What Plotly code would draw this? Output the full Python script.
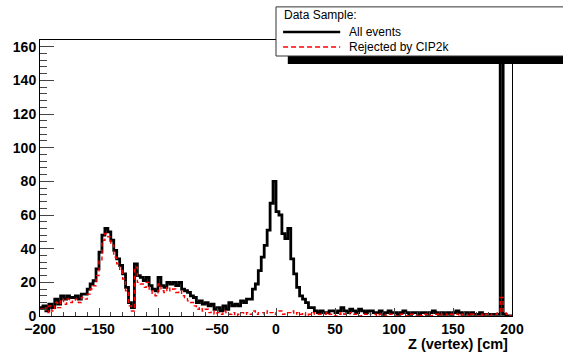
import numpy as np
import plotly.graph_objects as go

# Histogram binning: 160 bins of 2.5 cm from -200 to 200
z_min, z_max, n_bins = -200.0, 200.0, 160

# All events (counts per bin)
all_events = [
    5, 6, 3, 7, 5, 10, 7, 12, 10, 12, 11, 11, 12, 10, 13, 13,
    16, 19, 21, 28, 38, 48, 52, 50, 45, 39, 34, 30, 25, 17, 8, 5,
    31, 24, 23, 21, 23, 18, 16, 15, 23, 18, 17, 20, 19, 20, 18, 20,
    16, 15, 14, 12, 11, 8, 9, 7, 8, 6, 7, 4, 5, 3, 6, 4,
    8, 6, 7, 6, 9, 8, 10, 10, 16, 19, 27, 35, 42, 51, 67, 80,
    62, 60, 49, 46, 52, 34, 25, 17, 12, 10, 8, 5, 5, 3, 2, 3,
    2, 2, 3, 3, 2, 3, 5, 3, 2, 4, 3, 2, 4, 3, 2, 3,
    3, 2, 2, 3, 1, 2, 3, 2, 2, 1, 2, 3, 2, 1, 2, 2,
    1, 2, 2, 1, 2, 3, 2, 1, 2, 1, 2, 1, 2, 3, 2, 1,
    2, 1, 2, 1, 1, 2, 1, 1, 1, 1, 1, 1, 420, 1, 0, 0,
]

# Rejected by CIP2k (counts per bin)
rejected = [
    4, 5, 2, 6, 3, 8, 5, 10, 7, 10, 8, 9, 10, 8, 11, 10,
    13, 16, 18, 24, 33, 45, 49, 47, 42, 35, 31, 27, 22, 15, 6, 3,
    29, 20, 19, 17, 20, 15, 13, 12, 19, 15, 14, 17, 15, 16, 14, 15,
    12, 11, 9, 8, 6, 4, 5, 3, 4, 2, 3, 1, 2, 1, 3, 2,
    1, 2, 0, 1, 2, 1, 2, 1, 3, 1, 2, 2, 1, 3, 2, 1,
    2, 3, 1, 2, 2, 3, 1, 2, 1, 2, 0, 1, 2, 1, 1, 1,
    1, 2, 1, 1, 0, 1, 2, 1, 1, 2, 1, 1, 0, 1, 1, 2,
    1, 1, 0, 1, 1, 0, 1, 1, 0, 1, 1, 1, 0, 1, 1, 0,
    1, 0, 1, 1, 0, 1, 1, 0, 1, 1, 0, 1, 1, 1, 0, 1,
    1, 0, 1, 1, 0, 1, 0, 1, 0, 1, 1, 2, 11, 2, 1, 0,
]

x_ticks = [-200, -150, -100, -50, 0, 50, 100, 150, 200]
y_ticks = [0, 20, 40, 60, 80, 100, 120, 140, 160]

edges = np.linspace(z_min, z_max, n_bins + 1)


def step_xy(vals):
    v = list(vals)
    xs = list(edges)
    ys = v + [v[-1]]
    return xs, ys


fig = go.Figure()
xa, ya = step_xy(all_events)
fig.add_trace(go.Scatter(x=xa, y=ya, mode="lines", line=dict(color="black", width=2.8, shape="hv"),
                         name="All events", showlegend=False))
xr, yr = step_xy(rejected)
fig.add_trace(go.Scatter(x=xr, y=yr, mode="lines",
                         line=dict(color="#ff0000", width=1.4, shape="hv", dash="4px,3px"),
                         name="Rejected by CIP2k", showlegend=False))

font_family = "Liberation Sans, Arial, Helvetica, sans-serif"

fig.update_layout(
    width=563, height=356,
    margin=dict(l=40, r=51, t=40, b=40),
    paper_bgcolor="white", plot_bgcolor="white",
    font=dict(family=font_family, color="black"),
    xaxis=dict(range=[-200, 200], tickvals=x_ticks, ticks="inside", ticklen=8, tickwidth=1,
               minor=dict(dtick=10, ticks="inside", ticklen=4, tickwidth=1),
               showline=True, linecolor="black", linewidth=1, mirror=True,
               showgrid=False, zeroline=False,
               tickfont=dict(size=14, weight="bold", family=font_family)),
    yaxis=dict(range=[0, 164], tickvals=y_ticks, ticks="inside", ticklen=14, tickwidth=1,
               minor=dict(dtick=4, ticks="inside", ticklen=7, tickwidth=1),
               showline=True, linecolor="black", linewidth=1, mirror=True,
               showgrid=False, zeroline=False,
               tickfont=dict(size=14, weight="bold", family=font_family)),
)

# X axis title
fig.add_annotation(text="Z (vertex) [cm]", xref="paper", yref="paper", x=0.995, y=-0.1,
                   xanchor="right", yanchor="middle", showarrow=False,
                   font=dict(size=14.5, weight="bold", family=font_family))

# Legend (ROOT style box with shadow)
fig.add_shape(type="rect", xref="paper", yref="paper", x0=0.525, x1=1.12, y0=0.913, y1=0.942,
              fillcolor="black", line=dict(width=0), layer="above")
fig.add_shape(type="rect", xref="paper", yref="paper", x0=0.5, x1=1.12, y0=0.942, y1=1.12,
              fillcolor="white", line=dict(color="#333333", width=1), layer="above")
fig.add_shape(type="line", xref="paper", yref="paper", x0=0.515, x1=0.636, y0=(316 - 32) / 276,
              y1=(316 - 32) / 276, line=dict(color="black", width=2.6), layer="above")
fig.add_shape(type="line", xref="paper", yref="paper", x0=0.515, x1=0.636, y0=(316 - 47) / 276,
              y1=(316 - 47) / 276, line=dict(color="#ff0000", width=1.4, dash="5px,3px"), layer="above")
fig.add_annotation(text="Data Sample:", xref="paper", yref="paper", x=(282 - 40) / 472, y=(316 - 15) / 276,
                   xanchor="left", yanchor="middle", showarrow=False, font=dict(size=12, family=font_family))
fig.add_annotation(text="All events", xref="paper", yref="paper", x=(347 - 40) / 472, y=(316 - 32) / 276,
                   xanchor="left", yanchor="middle", showarrow=False, font=dict(size=12, family=font_family))
fig.add_annotation(text="Rejected by CIP2k", xref="paper", yref="paper", x=(347 - 40) / 472,
                   y=(316 - 47) / 276, xanchor="left", yanchor="middle", showarrow=False,
                   font=dict(size=12, family=font_family))

fig.write_html("out.html")
